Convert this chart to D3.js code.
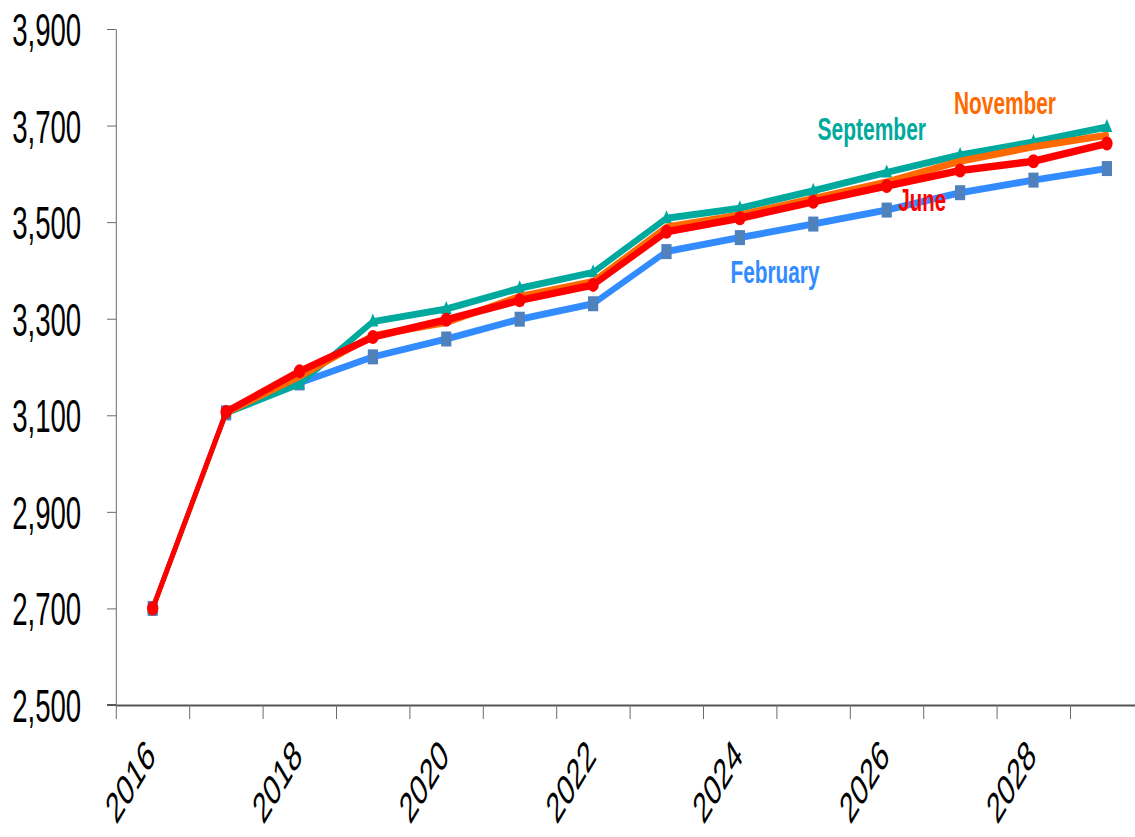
<!DOCTYPE html>
<html>
<head>
<meta charset="utf-8">
<script src="https://cdn.jsdelivr.net/npm/d3@7/dist/d3.min.js"></script>
<style>
  html, body { margin: 0; padding: 0; background: #fff; }
  svg { display: block; }
</style>
</head>
<body>
<svg id="chart" width="1135" height="837"></svg>
<script>
// ---- data ----
const years = ["2016","2017","2018","2019","2020","2021","2022","2023","2024","2025","2026","2027","2028","2029"];
const february  = [2700, 3105, 3167, 3221, 3258, 3299, 3331, 3439, 3468, 3496, 3525, 3561, 3587, 3611];
const september = [2700, 3105, 3165, 3294, 3320, 3363, 3396, 3508, 3529, 3565, 3603, 3639, 3666, 3697];
const november  = [2700, 3105, 3180, 3265, 3292, 3346, 3377, 3490, 3515, 3549, 3583, 3626, 3656, 3680];
const june      = [2700, 3107, 3191, 3262, 3298, 3338, 3370, 3480, 3508, 3542, 3575, 3607, 3626, 3663];
const yTickValues = [2500, 2700, 2900, 3100, 3300, 3500, 3700, 3900];
const xTickLabels = ["2016","2018","2020","2022","2024","2026","2028"];
const seriesNames = ["February", "September", "November", "June"];

// ---- layout (virtual space, whole chart squeezed horizontally) ----
const SX = 0.6;
const x0 = 116 / SX, band = 73.4 / SX;
const yTop = 29, yBottom = 705;

const series = [
  {name: "February",  values: february,  line: "#338CFF", marker: "square",   mfill: "#4F81BD", w: 7,   label: {x: 730.5, y: 283, len: 89}},
  {name: "September", values: september, line: "#00A99D", marker: "triangle", mfill: "#00A99D", w: 7,   label: {x: 817.5, y: 140, len: 108.5}},
  {name: "November",  values: november,  line: "#FF6A00", marker: null,       mfill: "#FF6A00", w: 7,   label: {x: 954,   y: 114, len: 102}},
  {name: "June",      values: june,      line: "#FF0000", marker: "circle",   mfill: "#FF0000", w: 7.5, label: {x: 898.5, y: 211.5, len: 47.5}}
];

const svg = d3.select("#chart");
svg.append("rect").attr("width", 1135).attr("height", 837).attr("fill", "#fff");
const g = svg.append("g").attr("transform", `scale(${SX},1)`);

const x = d3.scaleBand().domain(years).range([x0, x0 + band * years.length]).padding(0);
const xIdx = d3.scaleLinear().domain([0, years.length]).range([x0, x0 + band * years.length]);
const y = d3.scaleLinear().domain([2500, 3900]).range([yBottom, yTop]);

// y axis
const yAxis = g.append("g").attr("transform", `translate(${x0},0)`)
  .call(d3.axisLeft(y).tickValues(yTickValues).tickSize(9 / SX).tickSizeOuter(0).tickPadding(43).tickFormat(d3.format(",")));
yAxis.select(".domain").attr("stroke", "#6b6b6b").attr("stroke-width", 1).attr("vector-effect", "non-scaling-stroke");
yAxis.selectAll(".tick line").attr("stroke", "#6b6b6b").attr("stroke-width", 1).attr("vector-effect", "non-scaling-stroke");
yAxis.selectAll(".tick text")
  .attr("font-family", "'Liberation Sans', Arial, sans-serif")
  .attr("font-size", 46).attr("fill", "#000").attr("dy", "0.36em");

// x axis: ticks at band boundaries
const xAxis = g.append("g").attr("transform", `translate(0,${yBottom})`)
  .call(d3.axisBottom(xIdx).tickValues(d3.range(0, years.length + 1)).tickSize(14).tickSizeOuter(0).tickFormat(""));
xAxis.select(".domain").attr("stroke", "#555").attr("stroke-width", 2).attr("vector-effect", "non-scaling-stroke");
xAxis.selectAll(".tick line").attr("stroke", "#6b6b6b").attr("stroke-width", 1).attr("vector-effect", "non-scaling-stroke");
g.append("line").attr("x1", x0 - 9 / SX).attr("x2", x0).attr("y1", yBottom).attr("y2", yBottom)
  .attr("stroke", "#555").attr("stroke-width", 2).attr("vector-effect", "non-scaling-stroke");

// x labels
const xLab = g.append("g").attr("transform", `translate(0,${yBottom})`)
  .call(d3.axisBottom(x).tickValues(xTickLabels).tickSize(0).tickSizeOuter(0));
xLab.select(".domain").remove();
xLab.selectAll(".tick text")
  .attr("font-family", "'Liberation Sans', Arial, sans-serif")
  .attr("font-size", 43).attr("fill", "#000")
  .attr("text-anchor", "end")
  .attr("dy", null).attr("y", null)
  .attr("transform", "translate(7,53) rotate(-45)");

// lines
const line = d3.line().x((d, i) => x(years[i]) + x.bandwidth() / 2).y(d => y(d));
series.forEach(s => {
  const sg = g.append("g");
  sg.append("path").datum(s.values).attr("d", line)
    .attr("fill", "none").attr("stroke", s.line).attr("stroke-width", s.w)
    .attr("stroke-linejoin", "round").attr("stroke-linecap", "round");
  const pts = sg.selectAll(".pt").data(s.values).enter();
  const cx = (d, i) => x(years[i]) + x.bandwidth() / 2;
  if (s.marker === "circle") {
    pts.append("ellipse").attr("cx", cx).attr("cy", d => y(d)).attr("rx", 9.5).attr("ry", 7).attr("fill", s.mfill);
  } else if (s.marker === "square") {
    pts.append("rect").attr("x", (d, i) => cx(d, i) - 8.5).attr("y", d => y(d) - 7.5)
      .attr("width", 17).attr("height", 15).attr("fill", s.mfill);
  } else if (s.marker === "triangle") {
    pts.append("path").attr("d", (d, i) => {
      const px = cx(d, i), py = y(d);
      return `M${px},${py - 8}L${px + 9},${py + 5}L${px - 9},${py + 5}Z`;
    }).attr("fill", s.mfill);
  }
});

// series labels
series.forEach(s => {
  g.append("text")
    .attr("x", s.label.x / SX).attr("y", s.label.y)
    .attr("font-family", "'Liberation Sans', Arial, sans-serif")
    .attr("font-weight", "bold").attr("font-size", 31)
    .attr("fill", s.line)
    .attr("textLength", s.label.len / SX).attr("lengthAdjust", "spacingAndGlyphs")
    .text(s.name);
});
</script>
</body>
</html>
